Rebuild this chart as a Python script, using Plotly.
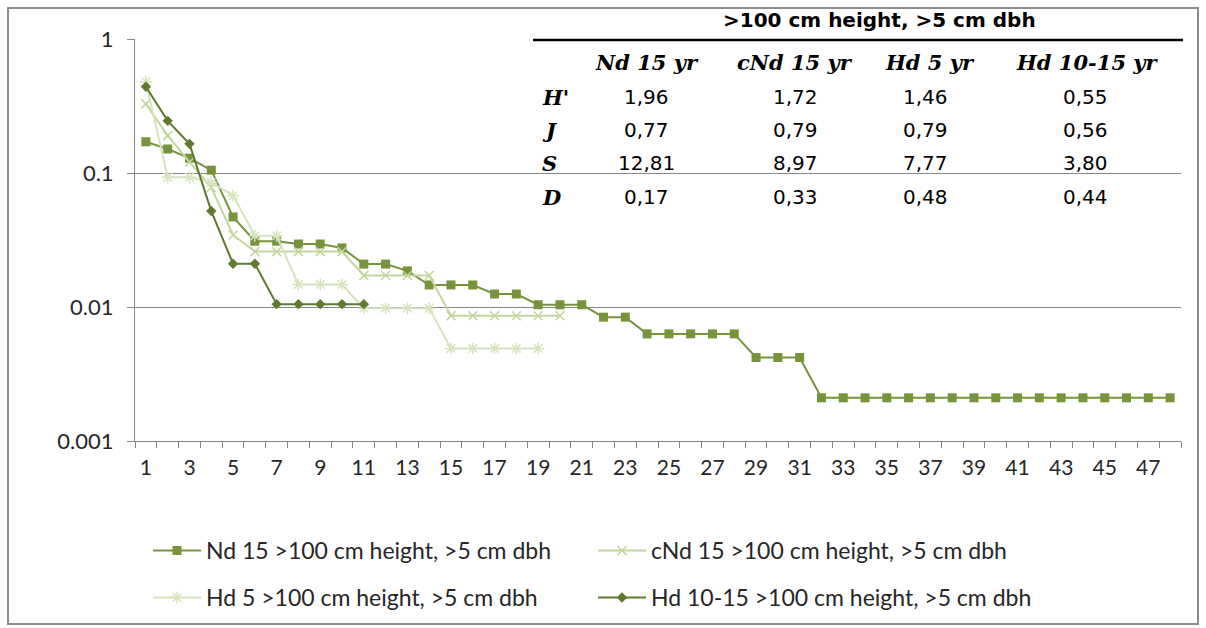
import plotly.graph_objects as go

# Rank-abundance data (relative abundance per species rank)
ranks = list(range(1, 49))

nd15 = [0.171, 0.151, 0.129, 0.105, 0.047, 0.031, 0.031, 0.0295, 0.0295, 0.0276,
        0.0209, 0.0209, 0.0186, 0.0146, 0.0146, 0.0146, 0.0125, 0.0125, 0.0104, 0.0104,
        0.0104, 0.0084, 0.0084, 0.0063, 0.0063, 0.0063, 0.0063, 0.0063, 0.0042, 0.0042,
        0.0042, 0.0021, 0.0021, 0.0021, 0.0021, 0.0021, 0.0021, 0.0021, 0.0021, 0.0021,
        0.0021, 0.0021, 0.0021, 0.0021, 0.0021, 0.0021, 0.0021, 0.0021]

cnd15 = [0.328, 0.19, 0.121, 0.078, 0.0345, 0.0259, 0.0259, 0.0259, 0.0259, 0.0259,
         0.0172, 0.0172, 0.0172, 0.0172, 0.0086, 0.0086, 0.0086, 0.0086, 0.0086, 0.0086]

hd5 = [0.48, 0.093, 0.093, 0.085, 0.068, 0.034, 0.034, 0.0147, 0.0147, 0.0147,
       0.0098, 0.0098, 0.0098, 0.0098, 0.0049, 0.0049, 0.0049, 0.0049, 0.0049]

hd1015 = [0.44, 0.245, 0.165, 0.052, 0.021, 0.021, 0.0105, 0.0105, 0.0105, 0.0105, 0.0105]

series_names = ["Nd 15 >100 cm height, >5 cm dbh",
                "cNd 15 >100 cm height, >5 cm dbh",
                "Hd 5 >100 cm height, >5 cm dbh",
                "Hd 10-15 >100 cm height, >5 cm dbh"]

y_tick_vals = [0.001, 0.01, 0.1, 1]
y_tick_text = ["0.001", "0.01", "0.1", "1"]
x_tick_vals = list(range(1, 48, 2))

# Diversity index table
table_title = ">100 cm height, >5 cm dbh"
table_cols = ["Nd 15 yr", "cNd 15 yr", "Hd 5 yr", "Hd 10-15 yr"]
table_rows = ["H'", "J", "S", "D"]
table_vals = [["1,96", "1,72", "1,46", "0,55"],
              ["0,77", "0,79", "0,79", "0,56"],
              ["12,81", "8,97", "7,77", "3,80"],
              ["0,17", "0,33", "0,48", "0,44"]]

W, H = 1206, 628
L, R, T, B = 135, 1181, 39, 441


def px(x):
    return (x - L) / (R - L)


def py(y):
    return (B - y) / (B - T)


FONT = "Lato"
TXT = "#262626"
GRID = "#868686"

fig = go.Figure()

fig.add_trace(go.Scatter(
    x=ranks[:len(nd15)], y=nd15, name=series_names[0], mode="lines+markers",
    line=dict(color="#77933C", width=2),
    marker=dict(symbol="square", size=9, color="#77933C"),
    legend="legend"))
fig.add_trace(go.Scatter(
    x=ranks[:len(cnd15)], y=cnd15, name=series_names[1], mode="lines+markers",
    line=dict(color="#C3D69B", width=2),
    marker=dict(symbol="x-thin", size=9, line=dict(color="#C3D69B", width=1.5)),
    legend="legend"))
fig.add_trace(go.Scatter(
    x=ranks[:len(hd5)], y=hd5, name=series_names[2], mode="lines+markers",
    line=dict(color="#D7E4BD", width=2),
    marker=dict(symbol="asterisk", size=10, line=dict(color="#D7E4BD", width=1.5)),
    legend="legend2"))
fig.add_trace(go.Scatter(
    x=ranks[:len(hd1015)], y=hd1015, name=series_names[3], mode="lines+markers",
    line=dict(color="#5F7A2E", width=2),
    marker=dict(symbol="diamond", size=8, color="#5F7A2E"),
    legend="legend2"))

# Table text
SANS = "DejaVu Sans"
SERIF = "DejaVu Serif"
anns = []
anns.append(dict(x=px(879), y=py(20), text="<b>" + table_title + "</b>",
                 font=dict(family=SANS, size=20, color="black")))
col_x = [647, 795, 930, 1087]
for cx, c in zip(col_x, table_cols):
    anns.append(dict(x=px(cx), y=py(63), text="<b><i>" + c + "</i></b>",
                     font=dict(family=SERIF, size=21, color="black")))
row_y = [97, 130, 163, 197]
val_x = [646, 795, 925, 1085]
for ry, rname, vals in zip(row_y, table_rows, table_vals):
    anns.append(dict(x=px(540), y=py(ry), text="<b><i>" + rname + "</i></b>",
                     xanchor="left",
                     font=dict(family=SERIF, size=21, color="black")))
    for vx, v in zip(val_x, vals):
        anns.append(dict(x=px(vx), y=py(ry), text=v,
                         font=dict(family=SANS, size=20, color="black")))
for a in anns:
    a.update(xref="paper", yref="paper", showarrow=False)
    a.setdefault("xanchor", "center")
    a.setdefault("yanchor", "middle")

shapes = [
    # chart frame
    dict(type="rect", xref="paper", yref="paper",
         x0=px(8), x1=px(1198), y0=py(624), y1=py(8),
         line=dict(color="#8C8C8C", width=2), fillcolor="rgba(0,0,0,0)", layer="below"),
    # table rule under the title
    dict(type="line", xref="paper", yref="paper",
         x0=px(533), x1=px(1183), y0=py(40), y1=py(40),
         line=dict(color="black", width=2.5)),
]

legend_common = dict(orientation="h", xanchor="left", yanchor="top",
                     entrywidth=382, entrywidthmode="pixels", itemwidth=48,
                     font=dict(family=FONT, size=23, color=TXT),
                     bgcolor="rgba(0,0,0,0)")

fig.update_layout(
    width=W, height=H,
    margin=dict(l=L, r=W - R, t=T, b=H - B, autoexpand=False),
    paper_bgcolor="white", plot_bgcolor="white",
    font=dict(family=FONT, size=20, color=TXT),
    annotations=anns, shapes=shapes,
    legend=dict(x=px(148), y=py(529), **legend_common),
    legend2=dict(x=px(148), y=py(576), **legend_common),
)

fig.update_xaxes(
    range=[0.5, 48.5], tickmode="array", tickvals=x_tick_vals,
    ticktext=[str(v) for v in x_tick_vals], ticks="", showgrid=False,
    showline=True, linecolor=GRID, linewidth=1, zeroline=False,
    ticklabelstandoff=8, tickfont=dict(family=FONT, size=21, color=TXT),
    minor=dict(tick0=0.5, dtick=1, ticks="outside", ticklen=6, tickcolor=GRID,
               showgrid=False),
)
fig.update_yaxes(
    type="log", range=[-3, 0], tickmode="array", tickvals=y_tick_vals,
    ticktext=y_tick_text, ticks="outside", ticklen=7, tickcolor=GRID,
    showgrid=True, gridcolor=GRID, gridwidth=1,
    showline=True, linecolor=GRID, linewidth=1, zeroline=False,
    ticklabelstandoff=9, tickfont=dict(family=FONT, size=22, color=TXT),
)

fig.write_html("out.html")
